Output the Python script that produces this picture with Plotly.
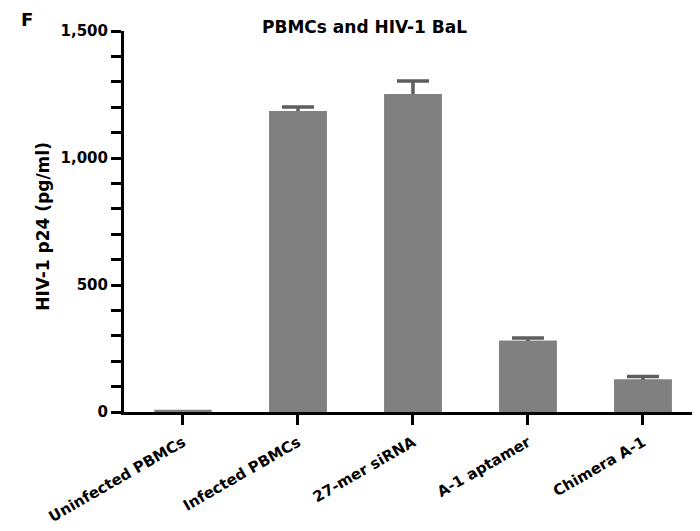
import plotly.graph_objects as go

categories = ["Uninfected PBMCs", "Infected PBMCs", "27-mer siRNA", "A-1 aptamer", "Chimera A-1"]
values = [9, 1185, 1252, 281, 128]
errors = [None, 16, 51, 10, 12]
y_ticks = [0, 500, 1000, 1500]
y_tick_labels = ["0", "500", "1,000", "1,500"]

FONT = "DejaVu Sans"
# the page body has an 8px margin, so the figure is laid out 8px smaller
OFF = 8
W, H = 700 - OFF, 531 - OFF
L, R, T, B = 124 - OFF, 0, 31 - OFF, 118.5
pw = W - L - R
ph = H - T - B


def px_x(page_x):
    return (page_x - OFF - L) / pw


def px_y(page_y):
    return (H - B - (page_y - OFF)) / ph


# values only where an error bar exists
err_values = [v if e is not None else None for v, e in zip(values, errors)]
err_array = [e if e is not None else 0 for e in errors]

fig = go.Figure()
# bars carrying symmetric error bars (lower half hidden by the bars drawn over them)
fig.add_trace(go.Bar(
    x=categories,
    y=err_values,
    width=0.5,
    marker=dict(color="#808080", line=dict(width=0), opacity=1),
    error_y=dict(
        type="data",
        array=err_array,
        color="#5e5e5e",
        thickness=3.5,
        width=16,
    ),
    hoverinfo="skip",
))
# same bars on top, hiding the lower half of each error bar
fig.add_trace(go.Bar(
    x=categories,
    y=values,
    width=0.5,
    marker=dict(color="#808080", line=dict(width=0), opacity=1),
))

fig.update_layout(
    barmode="overlay",
    width=W,
    height=H,
    margin=dict(l=L, r=R, t=T, b=B, autoexpand=False),
    paper_bgcolor="white",
    plot_bgcolor="white",
    showlegend=False,
    font=dict(family=FONT, color="black"),
    title=dict(
        text="PBMCs and HIV-1 BaL",
        x=(364.5 - OFF) / W,
        xanchor="center",
        y=1 - (27 - OFF) / H,
        yanchor="middle",
        font=dict(family=FONT, size=17, weight="bold", color="black"),
    ),
    xaxis=dict(
        type="category",
        range=[-0.513, 4.496],
        showline=True,
        linecolor="black",
        linewidth=3,
        ticks="outside",
        ticklen=10,
        tickwidth=3,
        tickcolor="black",
        tickangle=-30,
        ticklabelstandoff=3,
        tickfont=dict(family=FONT, size=15, weight="bold", color="black"),
        showgrid=False,
        zeroline=False,
    ),
    yaxis=dict(
        range=[0, 1500],
        showline=True,
        linecolor="black",
        linewidth=3,
        ticks="outside",
        ticklen=10,
        tickwidth=3,
        tickcolor="black",
        tickvals=y_ticks,
        ticktext=y_tick_labels,
        tickfont=dict(family=FONT, size=15, weight="bold", color="black"),
        minor=dict(dtick=100, ticks="outside", ticklen=10, tickwidth=3, tickcolor="black", showgrid=False),
        showgrid=False,
        zeroline=False,
    ),
    annotations=[
        dict(
            text="HIV-1 p24 (pg/ml)",
            xref="paper", yref="paper",
            x=px_x(43), y=px_y(227),
            xanchor="center", yanchor="middle",
            textangle=-90,
            showarrow=False,
            font=dict(family=FONT, size=17, weight="bold", color="black"),
        ),
        dict(
            text="F",
            xref="paper", yref="paper",
            x=px_x(27), y=px_y(19),
            xanchor="center", yanchor="middle",
            showarrow=False,
            font=dict(family=FONT, size=18, weight="bold", color="black"),
        ),
    ],
)

fig.write_html("out.html")
